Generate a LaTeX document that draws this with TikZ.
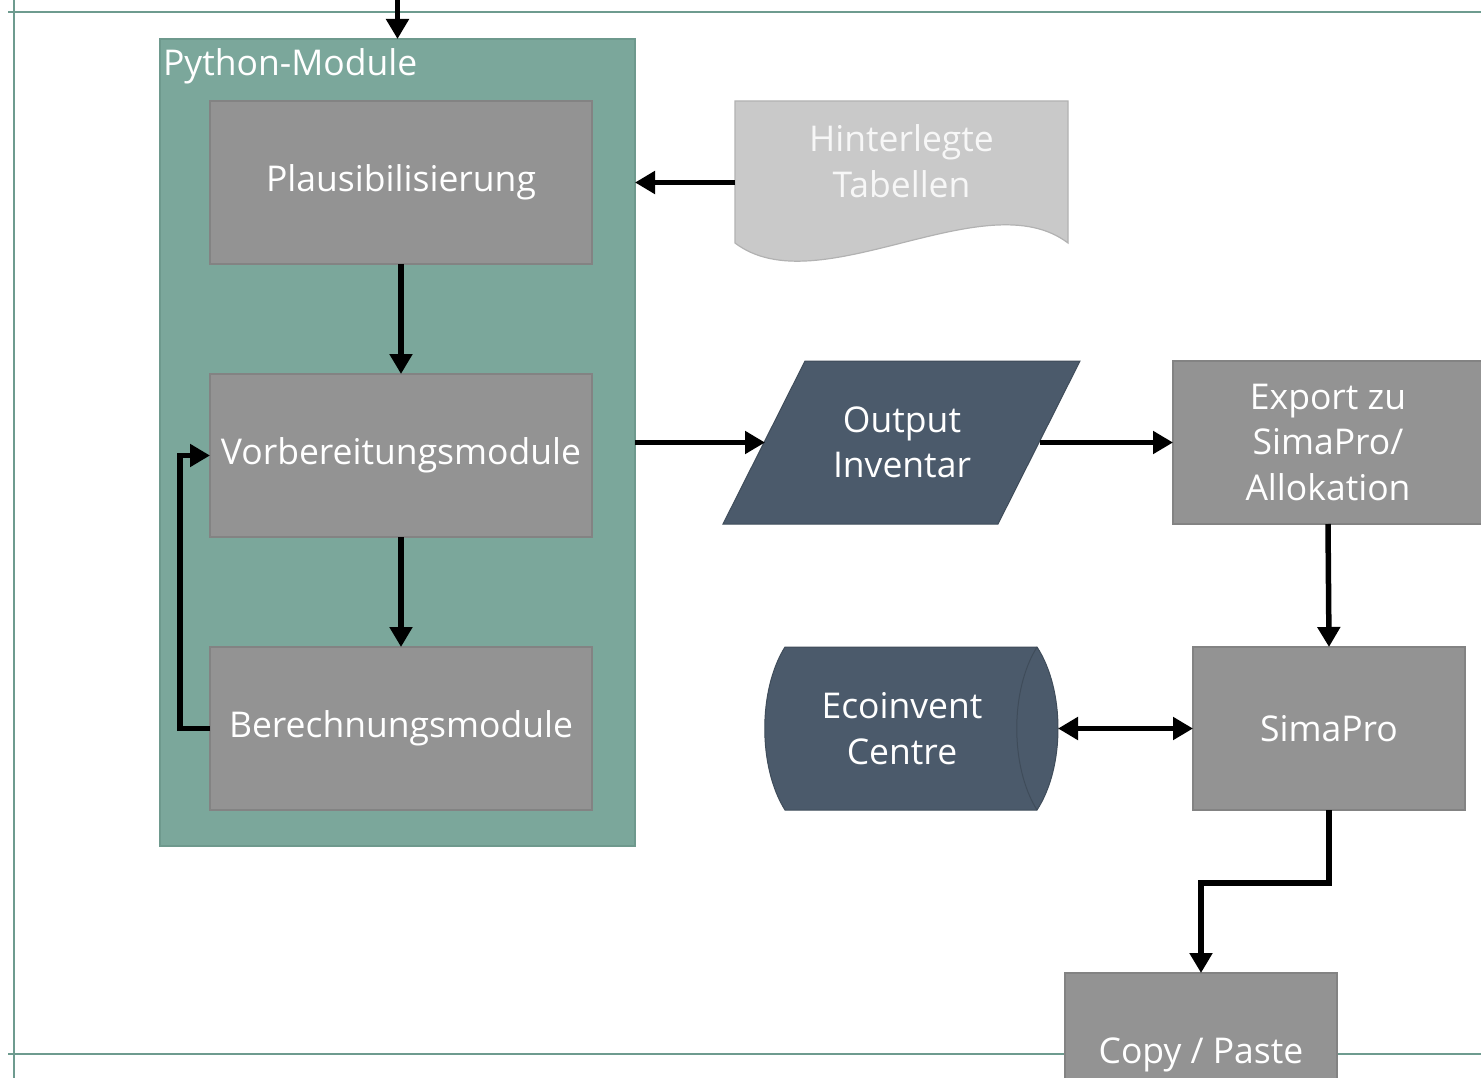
\documentclass[tikz,border=0pt]{standalone}
\usepackage{fontspec}
\setmainfont{Open Sans}
\usetikzlibrary{arrows.meta,calc}
\definecolor{tealfill}{HTML}{7BA79B}
\definecolor{tealline}{HTML}{6E998D}
\definecolor{boxfill}{HTML}{939393}
\definecolor{boxline}{HTML}{838383}
\definecolor{darkfill}{HTML}{4B5A6B}
\definecolor{darkline}{HTML}{3F4C5A}
\definecolor{docfill}{HTML}{C9C9C9}
\definecolor{docline}{HTML}{B2B2B2}
\definecolor{frameline}{HTML}{6E9B8F}
\tikzset{
  txt/.style={font=\fontsize{35.5}{45.5}\selectfont, text=white, align=center},
  procbox/.style={txt, draw=boxline, fill=boxfill, line width=1.2pt, inner sep=0pt, outer sep=0pt, minimum width=382pt, minimum height=163pt},
  arr/.style={line width=5.5pt, -{Triangle[length=20pt,width=22pt]}},
  dblarr/.style={line width=5.5pt, {Triangle[length=20pt,width=22pt]}-{Triangle[length=20pt,width=22pt]}},
  frame/.style={draw=frameline, line width=1.6pt},
  plain/.style={inner sep=0pt, outer sep=0pt}
}
\begin{document}
\begin{tikzpicture}[x=1pt,y=-1pt]
\useasboundingbox (0,0) rectangle (1481,1078);
\clip (0,0) rectangle (1481,1078);
\fill[white] (0,0) rectangle (1481,1078);
% frame lines
\draw[frame] (8,12) -- (1481,12);
\draw[frame] (14,0) -- (14,1078);
\draw[frame] (8,1054) -- (1481,1054);
% container
\node[plain, draw=tealline, fill=tealfill, line width=1.2pt, minimum width=475pt, minimum height=807pt] (py) at (397.5,442.5) {};
\node[txt, anchor=base west, plain] (pylabel) at (163,76) {Python-Module};
% process boxes
\node[procbox] (plaus) at (401,182.5) {Plausibilisierung};
\node[procbox] (vorb) at (401,455.5) {Vorbereitungsmodule};
\node[procbox] (ber) at (401,728.5) {Berechnungsmodule};
% document shape
\path[draw=docline, fill=docfill, line width=1.2pt] (735,101) -- (1068,101) -- (1068,243) .. controls (985,180) and (818,306) .. (735,243) -- cycle;
\node[txt, plain, minimum width=333pt, minimum height=142pt, text=white!94!gray] (doc) at (901.5,161) {Hinterlegte\\Tabellen};
% parallelogram
\path[fill=darkfill, draw=darkline, line width=1pt] (805,361) -- (1080,361) -- (998,524) -- (723,524) -- cycle;
\node[txt, plain, minimum width=275pt, minimum height=163pt] (out) at (902,442.5) {Output\\Inventar};
\coordinate (outW) at (765,442.5);
\coordinate (outE) at (1040,442.5);
% export box
\node[procbox, minimum width=310pt] (exp) at (1328,442.5) {Export zu\\SimaPro/\\Allokation};
% simapro
\node[procbox, minimum width=272pt] (sima) at (1329,728.5) {SimaPro};
% cylinder
\path[fill=darkfill, draw=darkline, line width=1pt] (785,647) -- (1037,647) .. controls (1065,690) and (1065,767) .. (1037,810) -- (785,810) .. controls (758,767) and (758,690) .. (785,647) -- cycle;
\draw[darkline, line width=1pt] (1037,647) .. controls (1010,690) and (1010,767) .. (1037,810);
\node[txt, plain] (eco) at (902,728.5) {Ecoinvent\\Centre};
\coordinate (ecoE) at (1058,728.5);
% copy paste
\node[procbox, minimum width=272pt] (copy) at (1201,1054.5) {Copy / Paste};
% connectors
\coordinate (topin) at (397.5,0);
\draw[arr] (topin) -- (py.north);
\draw[arr] (plaus.south) -- (vorb.north);
\draw[arr] (vorb.south) -- (ber.north);
\draw[arr] (ber.west) -- ++(-30,0) |- (vorb.west);
\draw[arr] (doc.west |- plaus.east) -- (py.east |- plaus.east);
\draw[arr] (py.east |- outW) -- (outW);
\draw[arr] (outE) -- (exp.west);
\draw[arr] (exp.south) -- (sima.north);
\draw[dblarr] (ecoE) -- (sima.west);
\draw[arr] (sima.south) -- ++(0,73) -| (copy.north);
\end{tikzpicture}
\end{document}
